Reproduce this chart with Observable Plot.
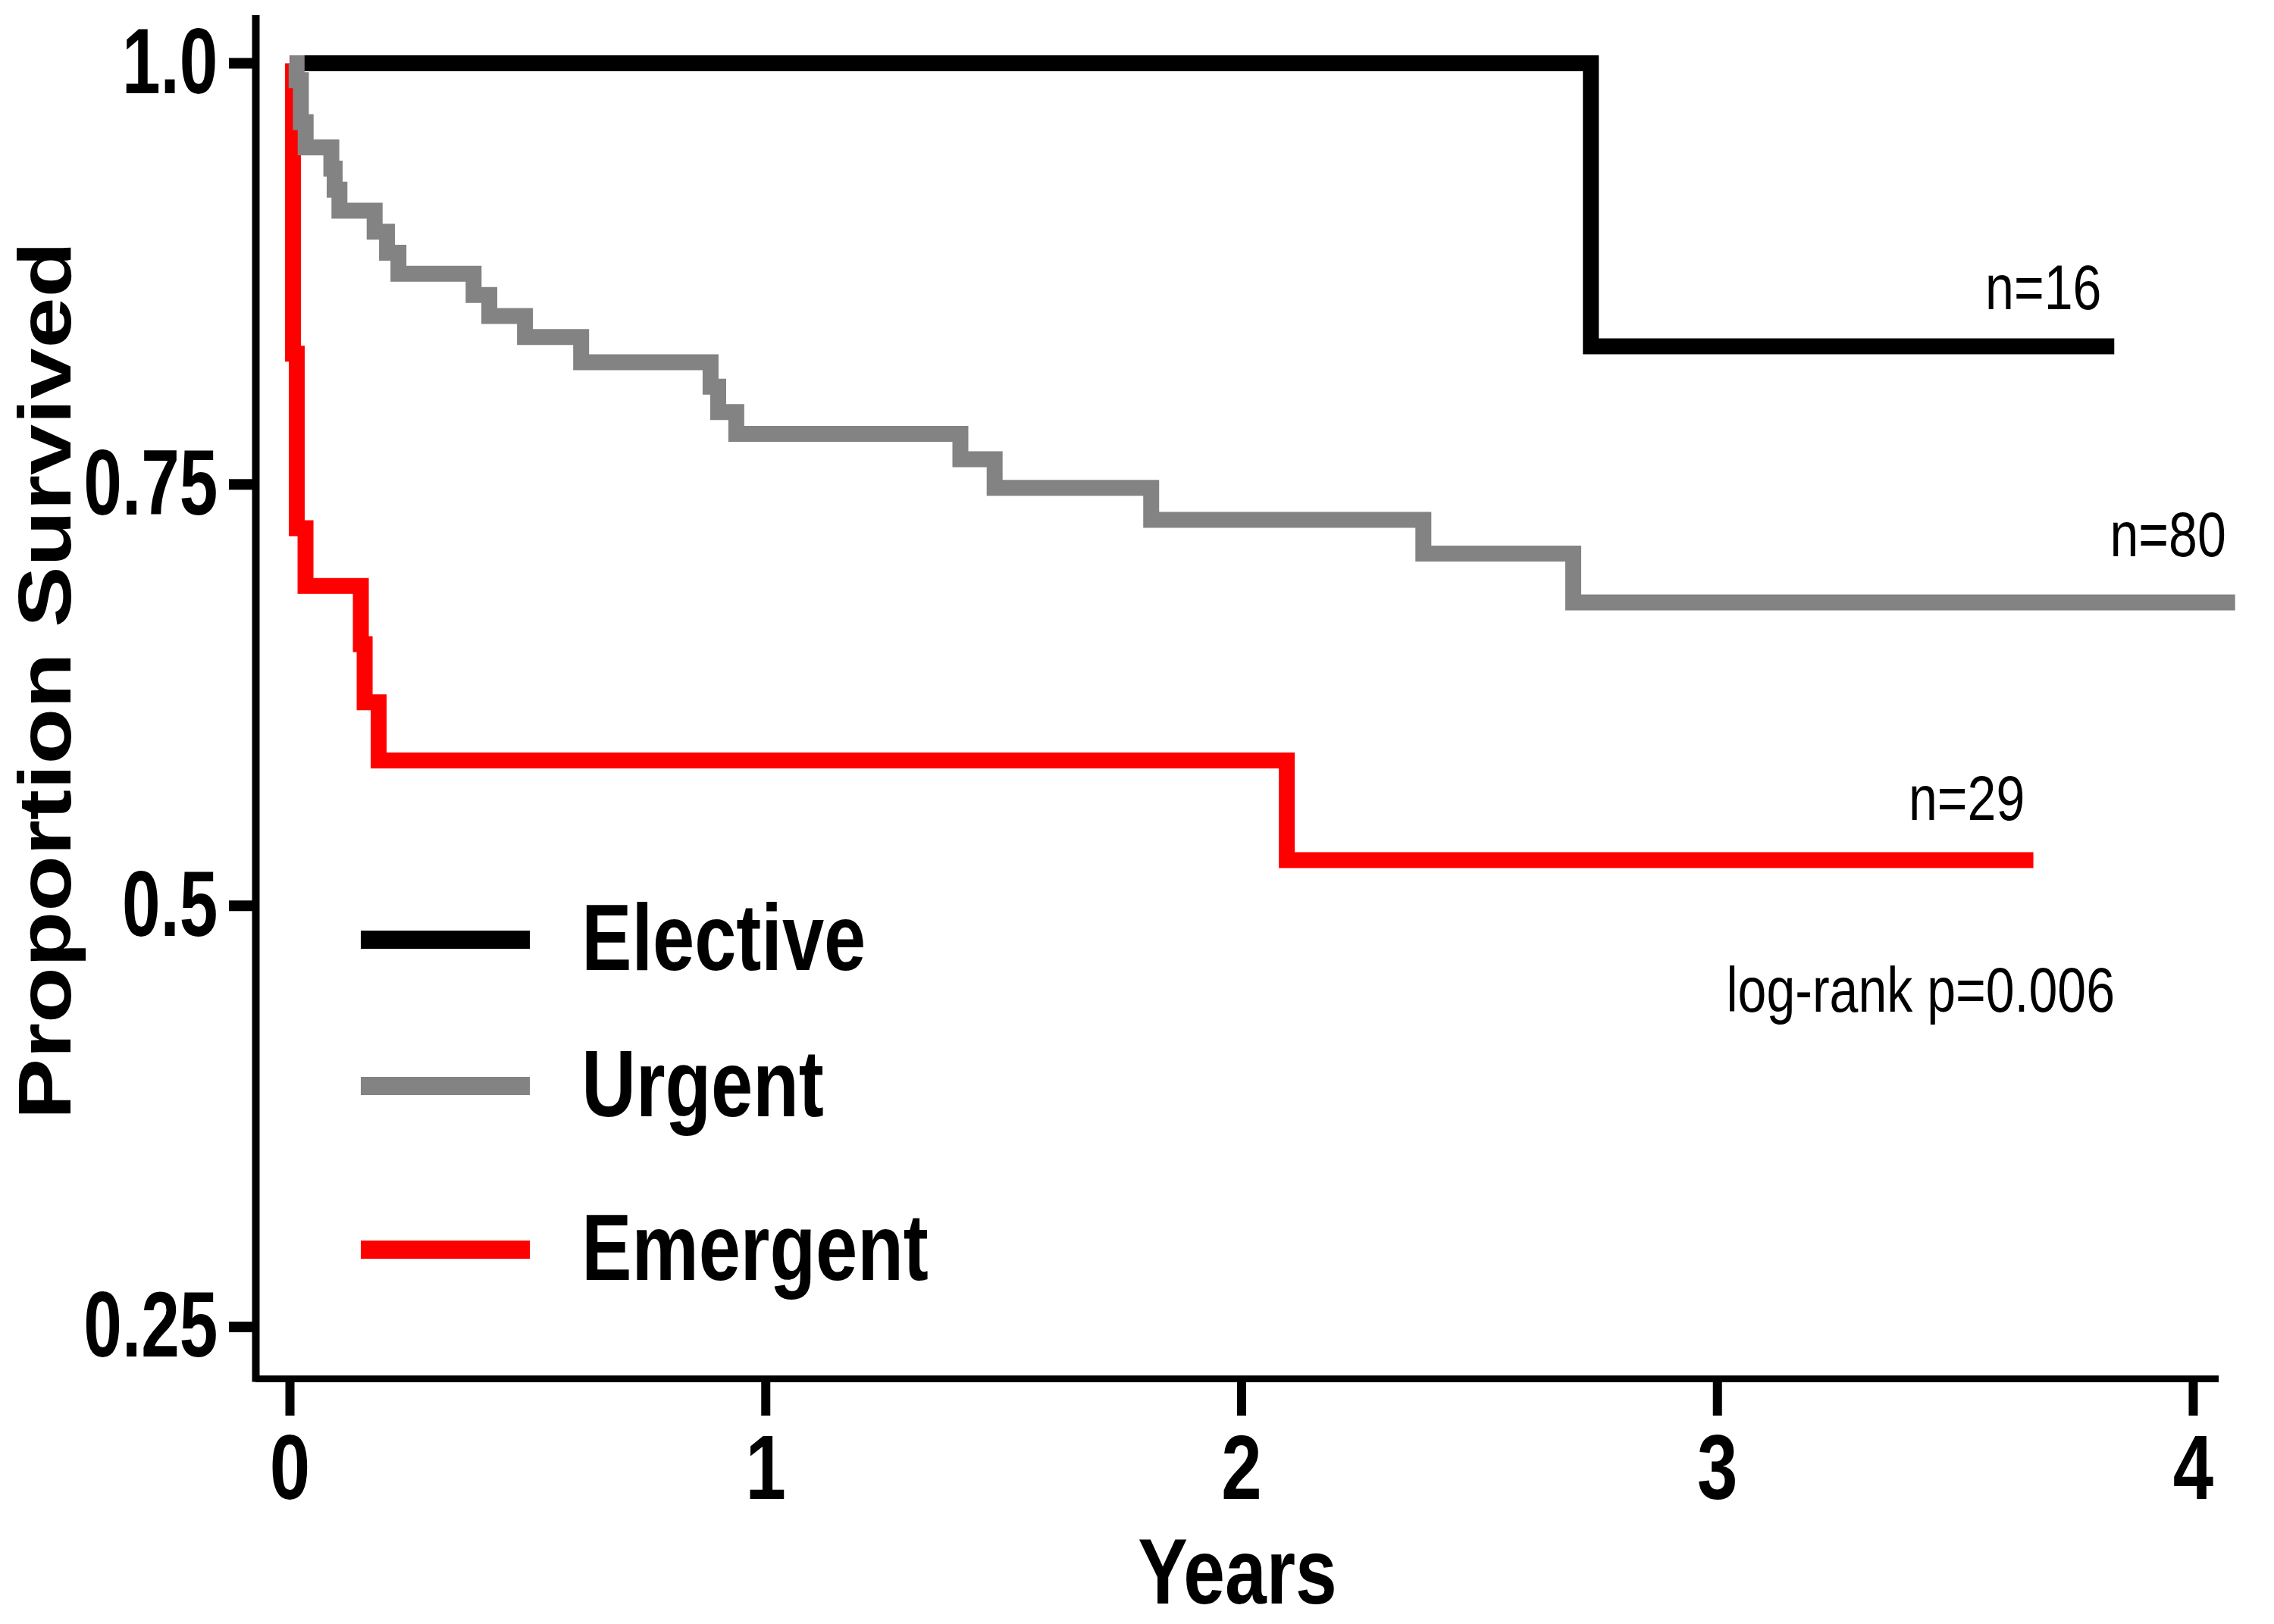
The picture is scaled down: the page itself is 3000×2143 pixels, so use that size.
<!DOCTYPE html>
<html>
<head>
<meta charset="utf-8">
<script src="https://cdn.jsdelivr.net/npm/d3@7"></script>
<script src="https://cdn.jsdelivr.net/npm/@observablehq/plot@0.6"></script>
<style>
  html, body { margin: 0; padding: 0; background: #ffffff; }
  #chart svg { display: block; }
</style>
</head>
<body>
<div id="chart"></div>
<script>
// ---------------- data ----------------
const groups = ["Elective", "Urgent", "Emergent"];
const groupColors = ["#000000", "#838383", "#ff0000"];
const groupSizes = ["n=16", "n=80", "n=29"];

// Kaplan-Meier curves (time in years, proportion surviving after each step)
const electiveTime = [0, 2.734, 3.834];
const electiveSurv = [1.0, 0.832, 0.832];

const urgentTime = [0, 0.014, 0.023, 0.033, 0.087, 0.094, 0.104, 0.178, 0.204, 0.228,
                    0.386, 0.419, 0.494, 0.612, 0.884, 0.900, 0.938, 1.409, 1.481,
                    1.810, 2.382, 2.697, 4.088];
const urgentSurv = [1.0, 0.99, 0.965, 0.95, 0.9375, 0.925, 0.9125, 0.90, 0.8875, 0.875,
                    0.8625, 0.85, 0.8375, 0.8225, 0.808, 0.793, 0.780, 0.765, 0.748,
                    0.729, 0.709, 0.680, 0.680];

const emergentTime = [0, 0.0064, 0.0143, 0.0327, 0.149, 0.157, 0.1864, 2.095, 3.664];
const emergentSurv = [1.0, 0.8276, 0.7241, 0.6897, 0.6552, 0.6207, 0.5862, 0.527, 0.527];

const xTicks = [0, 1, 2, 3, 4];
const xTickLabels = ["0", "1", "2", "3", "4"];
const yTicks = [0.25, 0.5, 0.75, 1.0];
const yTickLabels = ["0.25", "0.5", "0.75", "1.0"];

const xTitle = "Years";
const yTitle = "Proportion Survived";
const testLabel = "log-rank p=0.006";

// ---------------- layout ----------------
const W = 3000, H = 2143;
const FONT = "'Liberation Sans', Arial, Helvetica, sans-serif";
const xDomain = [-0.0717, 4.0542];
const yDomain = [0.2192, 1.0283];

const nLabelPos = [{x: 3.807, y: 0.8538}, {x: 4.069, y: 0.7072}, {x: 3.646, y: 0.5507}];
const testLabelPos = {x: 3.0187, y: 0.4373};
const legendPos = {x1: 0.1497, x2: 0.505, textX: 0.613, y: [0.4798, 0.3930, 0.2959]};

const toRows = (t, s) => t.map((d, i) => ({time: d, surv: s[i]}));
const series = {
  Elective: toRows(electiveTime, electiveSurv),
  Urgent: toRows(urgentTime, urgentSurv),
  Emergent: toRows(emergentTime, emergentSurv)
};

const lineStyle = {
  x: "time", y: "surv", curve: "step-after",
  strokeWidth: 21, strokeLinejoin: "miter", strokeLinecap: "butt", strokeMiterlimit: 10
};

const nLabels = groupSizes.map((label, i) => ({label, ...nLabelPos[i]}));
const legendData = groups.map((g, i) => ({g, y: legendPos.y[i]}));

// draw order: Emergent, Elective, Urgent (Urgent on top)
const drawOrder = ["Emergent", "Elective", "Urgent"];

const chart = Plot.plot({
  width: W,
  height: H,
  marginLeft: 337,
  marginRight: 73,
  marginTop: 20,
  marginBottom: 324,
  style: {background: "#ffffff", fontFamily: FONT, overflow: "visible", color: "#000"},
  x: {domain: xDomain, axis: null},
  y: {domain: yDomain, axis: null},
  marks: [
    // axis lines
    Plot.ruleX([xDomain[0]], {stroke: "#000", strokeWidth: 10, insetBottom: -4.5}),
    Plot.ruleY([yDomain[0]], {stroke: "#000", strokeWidth: 9}),
    Plot.axisX(xTicks, {
      anchor: "bottom", label: null, tickSize: 49, tickPadding: 24, strokeWidth: 12,
      fontSize: 120, fontWeight: "bold", fontFamily: FONT,
      tickFormat: (d) => xTickLabels[xTicks.indexOf(d)]
    }),
    Plot.axisY(yTicks, {
      anchor: "left", label: null, tickSize: 35, tickPadding: 15, strokeWidth: 14,
      fontSize: 123, fontWeight: "bold", fontFamily: FONT,
      tickFormat: (d) => yTickLabels[yTicks.indexOf(d)]
    }),
    // survival curves
    ...drawOrder.map((g) => Plot.line(series[g], {...lineStyle, stroke: groupColors[groups.indexOf(g)]})),
    // legend
    ...legendData.map((d, i) => Plot.ruleY([d], {
      y: "y", x1: legendPos.x1, x2: legendPos.x2, stroke: groupColors[i], strokeWidth: 24
    })),
    Plot.text(legendData, {
      x: legendPos.textX, y: "y", text: "g", textAnchor: "start", lineAnchor: "middle",
      fontSize: 124, fontWeight: "bold", fontFamily: FONT, fill: "#000", ariaLabel: "legend label"
    }),
    // n labels
    Plot.text(nLabels, {
      x: "x", y: "y", text: "label", textAnchor: "end", lineAnchor: "bottom",
      fontSize: 83, fontFamily: FONT, fill: "#000"
    }),
    Plot.text([testLabel], {
      x: testLabelPos.x, y: testLabelPos.y, text: (d) => d, textAnchor: "start", lineAnchor: "bottom",
      fontSize: 83, fontFamily: FONT, fill: "#000"
    }),
    // axis titles
    Plot.text([xTitle], {
      frameAnchor: "bottom", text: (d) => d, dy: 296, lineAnchor: "bottom", textAnchor: "middle",
      fontSize: 123, fontWeight: "bold", fontFamily: FONT, fill: "#000"
    }),
    Plot.text([yTitle], {
      frameAnchor: "left", text: (d) => d, dx: -245, dy: -22, rotate: -90,
      lineAnchor: "bottom", textAnchor: "middle",
      fontSize: 98, fontWeight: "bold", fontFamily: FONT, fill: "#000"
    })
  ]
});

document.getElementById("chart").append(chart);

// The reference figure is vertically stretched: horizontal text is condensed,
// rotated text is elongated. Emulate by scaling each text about its anchor.
chart.querySelectorAll("text").forEach((el) => {
  const t = el.getAttribute("transform") || "";
  const rotated = /rotate/.test(t);
  const group = el.closest("g[aria-label]");
  const role = group ? group.getAttribute("aria-label") : "";
  const fw = getComputedStyle(el).fontWeight;
  const bold = fw === "bold" || parseInt(fw, 10) >= 600;
  let k;
  if (rotated) k = 1.23;
  else if (role === "y-axis tick label") k = 0.74;
  else if (role === "legend label") k = 0.74;
  else k = bold ? 0.80 : 0.82;
  if (t) {
    el.setAttribute("transform", `${t} scale(${k},1)`);
  } else {
    const x = parseFloat(el.getAttribute("x") || "0");
    el.setAttribute("transform", `translate(${x},0) scale(${k},1) translate(${-x},0)`);
  }
});
</script>
</body>
</html>
